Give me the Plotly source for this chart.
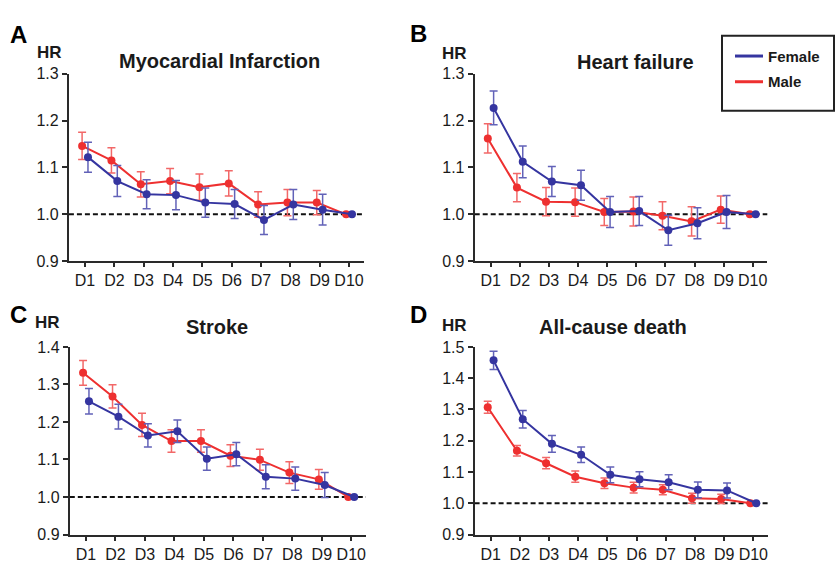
import plotly.graph_objects as go

categories = ["D1", "D2", "D3", "D4", "D5", "D6", "D7", "D8", "D9", "D10"]

# Panel A: Myocardial Infarction
mi_female = [1.122, 1.071, 1.043, 1.041, 1.025, 1.022, 0.988, 1.021, 1.010, 1.000]
mi_female_err = [0.032, 0.033, 0.031, 0.031, 0.031, 0.031, 0.031, 0.032, 0.033, 0.0]
mi_male = [1.146, 1.115, 1.064, 1.071, 1.058, 1.066, 1.021, 1.025, 1.025, 1.000]
mi_male_err = [0.029, 0.027, 0.027, 0.027, 0.028, 0.027, 0.027, 0.028, 0.026, 0.0]

# Panel B: Heart failure
hf_female = [1.227, 1.112, 1.070, 1.062, 1.005, 1.007, 0.966, 0.981, 1.005, 1.000]
hf_female_err = [0.036, 0.034, 0.032, 0.032, 0.033, 0.031, 0.032, 0.033, 0.035, 0.0]
hf_male = [1.162, 1.057, 1.027, 1.026, 1.005, 1.006, 0.997, 0.985, 1.010, 1.000]
hf_male_err = [0.031, 0.030, 0.030, 0.030, 0.029, 0.031, 0.030, 0.031, 0.029, 0.0]

# Panel C: Stroke
st_female = [1.255, 1.214, 1.164, 1.175, 1.102, 1.114, 1.054, 1.049, 1.032, 1.000]
st_female_err = [0.034, 0.033, 0.031, 0.030, 0.031, 0.031, 0.032, 0.031, 0.033, 0.0]
st_male = [1.331, 1.268, 1.192, 1.149, 1.149, 1.110, 1.099, 1.065, 1.047, 1.000]
st_male_err = [0.033, 0.031, 0.031, 0.030, 0.030, 0.029, 0.028, 0.029, 0.026, 0.0]

# Panel D: All-cause death
ac_female = [1.457, 1.269, 1.190, 1.155, 1.091, 1.077, 1.067, 1.043, 1.041, 1.000]
ac_female_err = [0.029, 0.028, 0.027, 0.025, 0.025, 0.024, 0.024, 0.025, 0.024, 0.0]
ac_male = [1.307, 1.168, 1.128, 1.085, 1.064, 1.050, 1.043, 1.016, 1.014, 1.000]
ac_male_err = [0.019, 0.017, 0.018, 0.018, 0.017, 0.017, 0.016, 0.016, 0.015, 0.0]

panel_titles = ["Myocardial Infarction", "Heart failure", "Stroke", "All-cause death"]
panel_letters = ["A", "B", "C", "D"]
y_ranges = [[0.9, 1.3], [0.9, 1.3], [0.9, 1.4], [0.9, 1.5]]
y_ticks = [[0.9, 1.0, 1.1, 1.2, 1.3], [0.9, 1.0, 1.1, 1.2, 1.3],
           [0.9, 1.0, 1.1, 1.2, 1.3, 1.4], [0.9, 1.0, 1.1, 1.2, 1.3, 1.4, 1.5]]
series_names = ["Female", "Male"]

panels = [
    (mi_female, mi_female_err, mi_male, mi_male_err),
    (hf_female, hf_female_err, hf_male, hf_male_err),
    (st_female, st_female_err, st_male, st_male_err),
    (ac_female, ac_female_err, ac_male, ac_male_err),
]

W, H = 835, 571
BLUE = "#3535a0"
RED = "#ee3030"
BLUE_ERR = "#6262b8"
RED_ERR = "#f26868"
AXIS = "#2a2a2a"
TXT = "#1a1a1a"
FONT = "Liberation Sans, Arial, sans-serif"

# pixel boxes for axes: (left, right, top, bottom)
boxes = [
    (68.9, 363.7, 67.7, 261.0),
    (474.7, 767.3, 67.7, 261.0),
    (69.8, 366.0, 349.3, 542.7),
    (474.6, 767.9, 349.3, 542.7),
]

xpos = list(range(len(categories)))
off = 0.1

fig = go.Figure()
layout = dict(
    width=W, height=H,
    margin=dict(l=0, r=0, t=0, b=0),
    paper_bgcolor="white", plot_bgcolor="white",
    showlegend=False,
    font=dict(family=FONT, color=TXT),
)

annotations = []
shapes = []

for i, (fv, fe, mv, me) in enumerate(panels):
    n = "" if i == 0 else str(i + 1)
    xa, ya = "x" + n, "y" + n
    l, r, t, b = boxes[i]
    layout["xaxis" + n] = dict(
        domain=[l / W, r / W], range=[-0.55, 9.5], anchor=ya,
        tickvals=xpos, ticktext=categories, showgrid=False, zeroline=False,
        showline=True, linecolor=AXIS, linewidth=2, ticks="outside", ticklen=4,
        tickwidth=1.5, tickcolor=AXIS, tickfont=dict(size=16, family=FONT, color=TXT),
    )
    layout["yaxis" + n] = dict(
        domain=[1 - b / H, 1 - t / H], range=y_ranges[i], anchor=xa,
        tickvals=y_ticks[i], tickformat=".1f", showgrid=False, zeroline=False,
        showline=True, linecolor=AXIS, linewidth=2, ticks="outside", ticklen=5,
        tickwidth=1.5, tickcolor=AXIS, tickfont=dict(size=16, family=FONT, color=TXT),
    )
    # reference line
    shapes.append(dict(type="line", xref=xa + " domain", yref=ya, x0=0, x1=1, y0=1.0, y1=1.0,
                       line=dict(color="#111111", width=2, dash="5px,3px"), layer="below"))
    # male (red) then female (blue)
    fig.add_trace(go.Scatter(
        x=[p - off for p in xpos], y=mv, xaxis=xa, yaxis=ya, mode="lines+markers",
        name=series_names[1], line=dict(color=RED, width=2), marker=dict(color=RED, size=8),
        error_y=dict(type="data", array=me, visible=True, color=RED_ERR, thickness=1.5, width=4),
    ))
    fig.add_trace(go.Scatter(
        x=[p + off for p in xpos], y=fv, xaxis=xa, yaxis=ya, mode="lines+markers",
        name=series_names[0], line=dict(color=BLUE, width=2), marker=dict(color=BLUE, size=8),
        error_y=dict(type="data", array=fe, visible=True, color=BLUE_ERR, thickness=1.5, width=4),
    ))

# titles, HR labels, panel letters (pixel positions)
title_pos = [(219, 55), (635, 56), (217, 329), (613, 329)]
hr_pos = [(49, 46), (454, 47), (47, 324), (454, 327)]
letter_pos = [(18, 27), (418, 26), (18, 316), (418, 316)]
for i in range(4):
    annotations.append(dict(text="<b>%s</b>" % panel_titles[i], xref="paper", yref="paper",
                            x=title_pos[i][0] / W, y=1 - title_pos[i][1] / H, showarrow=False,
                            xanchor="center", yanchor="middle", font=dict(size=20, family=FONT, color=TXT)))
    annotations.append(dict(text="<b>HR</b>", xref="paper", yref="paper",
                            x=hr_pos[i][0] / W, y=1 - hr_pos[i][1] / H, showarrow=False,
                            xanchor="center", yanchor="middle", font=dict(size=17, family=FONT, color=TXT)))
    annotations.append(dict(text="<b>%s</b>" % panel_letters[i], xref="paper", yref="paper",
                            x=letter_pos[i][0] / W, y=1 - letter_pos[i][1] / H, showarrow=False,
                            xanchor="center", yanchor="middle", font=dict(size=24, family=FONT, color="#000")))

# legend box
shapes.append(dict(type="rect", xref="paper", yref="paper", x0=722 / W, x1=834 / W,
                   y0=1 - 106 / H, y1=1 - 28.5 / H, line=dict(color="#222", width=2), fillcolor="white"))
legend_items = [(series_names[0], BLUE, 49.5), (series_names[1], RED, 76)]
for name, col, py in legend_items:
    shapes.append(dict(type="line", xref="paper", yref="paper", x0=735 / W, x1=763 / W,
                       y0=1 - py / H, y1=1 - py / H, line=dict(color=col, width=3)))
    annotations.append(dict(text="<b>%s</b>" % name, xref="paper", yref="paper",
                            x=766 / W, y=1 - py / H, showarrow=False, xanchor="left", yanchor="middle",
                            font=dict(size=15, family=FONT, color=TXT)))

layout["annotations"] = annotations
layout["shapes"] = shapes
fig.update_layout(**layout)
fig.write_html("out.html", config={"displayModeBar": False},
               post_script="document.body.style.margin='0';document.body.style.padding='0';document.body.style.overflow='hidden';")
